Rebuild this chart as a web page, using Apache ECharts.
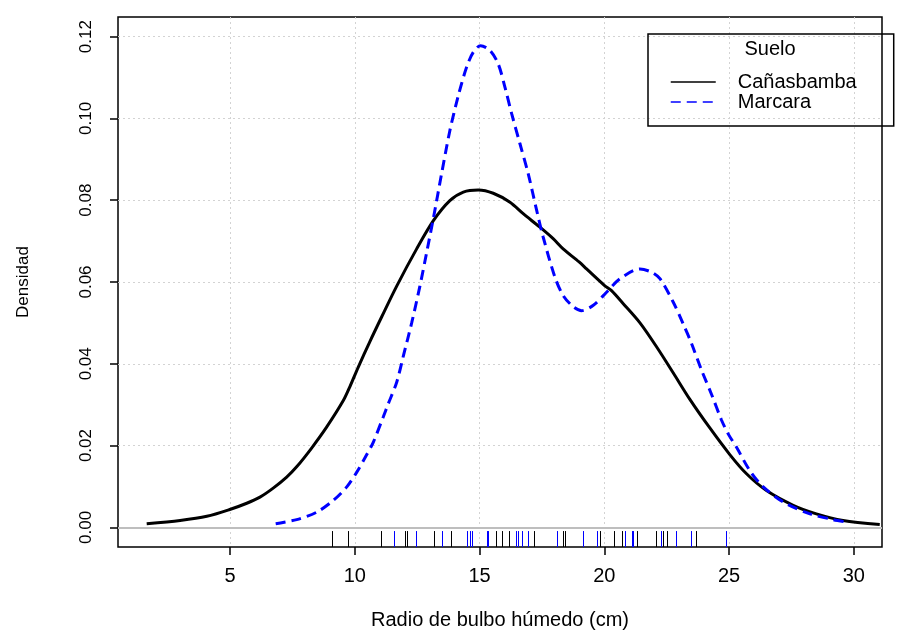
<!DOCTYPE html>
<html><head><meta charset="utf-8">
<script src="https://cdn.jsdelivr.net/npm/echarts@6/dist/echarts.min.js"></script>
<style>html,body{margin:0;padding:0;background:#fff}#c{width:897px;height:632px}</style>
</head><body><div id="c"></div>
<script>
// ---- data ----
const xTicks = [5, 10, 15, 20, 25, 30];
const yTicks = [0, 0.02, 0.04, 0.06, 0.08, 0.10, 0.12];
const seriesNames = ['Cañasbamba', 'Marcara'];
const legendTitle = 'Suelo';
const xTitle = 'Radio de bulbo húmedo (cm)';
const yTitle = 'Densidad';

const canasbambaDensity = [
  [1.66,0.0009],[3.0,0.0017],[4.07,0.0027],[4.96,0.0043],[5.67,0.0059],[6.2,0.0074],
  [6.73,0.0096],[7.27,0.0123],[7.67,0.0148],[8.27,0.0194],[8.87,0.0245],[9.54,0.0310],
  [9.81,0.0345],[10.14,0.0392],[10.61,0.0455],[11.08,0.0515],[11.68,0.0590],[12.48,0.0681],
  [13.15,0.0750],[13.81,0.0799],[14.35,0.0820],[14.95,0.0825],[15.55,0.0817],[16.22,0.0795],
  [16.75,0.0767],[17.42,0.0734],[17.95,0.0706],[18.35,0.0681],[18.99,0.0649],[19.29,0.0632],
  [20.0,0.0592],[20.29,0.0579],[20.76,0.0547],[21.43,0.0500],[22.10,0.0441],[22.76,0.0378],
  [23.43,0.0313],[24.23,0.0243],[25.03,0.0178],[25.70,0.0131],[26.5,0.0090],[27.57,0.0054],
  [28.5,0.0033],[29.57,0.0017],[31.04,0.0007]
];
const marcaraDensity = [
  [6.83,0.0009],[7.67,0.0019],[8.47,0.0037],[9.14,0.0066],[9.68,0.0099],[10.08,0.0135],
  [10.48,0.0178],[10.74,0.0208],[11.14,0.0270],[11.34,0.0302],[11.68,0.0355],[11.95,0.0420],
  [12.28,0.0500],[12.61,0.0590],[12.88,0.0672],[13.15,0.0756],[13.48,0.0865],[13.81,0.0970],
  [14.15,0.1056],[14.48,0.1125],[14.75,0.1162],[15.04,0.1178],[15.42,0.1166],[15.75,0.1133],
  [16.02,0.1076],[16.29,0.1011],[16.62,0.0938],[16.95,0.0865],[17.29,0.0775],[17.55,0.0710],
  [18.02,0.0612],[18.35,0.0567],[18.75,0.0540],[19.09,0.0530],[19.56,0.0543],[20.09,0.0575],
  [20.63,0.0608],[21.43,0.0632],[21.89,0.0624],[22.23,0.0608],[22.76,0.0551],[23.16,0.0498],
  [23.50,0.0449],[23.90,0.0384],[24.3,0.0325],[24.7,0.0262],[25.0,0.0225],[25.3,0.0196],
  [25.83,0.0139],[26.37,0.0099],[27.17,0.0062],[28.24,0.0033],[29.17,0.0019],[29.6,0.0014]
];
const canasbambaRug = [9.09, 9.73, 11.04, 12.03, 12.1, 13.19, 13.84, 15.66, 15.9, 16.17, 17.2,
  18.33, 18.44, 19.81, 20.4, 20.7, 21.3, 22.06, 22.35, 22.53, 23.68];
const marcaraRug = [11.59, 12.47, 13.51, 14.5, 14.6, 14.7, 15.3, 15.35, 16.46, 16.53, 16.7, 16.94,
  18.12, 19.15, 19.71, 20.81, 21.1, 21.16, 22.26, 22.88, 23.49, 24.88];

// ---- chart ----
const X_MIN = 0.51, X_MAX = 31.13, Y_MIN = -0.0048, Y_MAX = 0.1248, RUG_TOP = -0.0009;
const FONT = 'Liberation Sans, Arial, sans-serif';
const colors = ['#000000', '#0000FF'];

function rugSeries(name, values, color) {
  return {
    name: name, type: 'custom', z: 3, silent: true,
    data: values.map(v => [v, 0]),
    encode: { x: 0, y: 1 },
    renderItem: function (params, api) {
      const x = api.value(0);
      const p1 = api.coord([x, Y_MIN]);
      const p2 = api.coord([x, RUG_TOP]);
      const px = Math.round(p1[0]) + 0.5;
      return { type: 'line', shape: { x1: px, y1: p1[1], x2: px, y2: p2[1] },
        style: { stroke: color, lineWidth: 1 } };
    }
  };
}

const chart = echarts.init(document.getElementById('c'), null, { renderer: 'canvas' });
chart.setOption({
  animation: false,
  backgroundColor: '#fff',
  grid: { left: 118, right: 15, top: 17, bottom: 85, show: true, borderColor: '#000', borderWidth: 1.5,
    containLabel: false, outerBoundsMode: 'none' },
  xAxis: {
    type: 'value', min: X_MIN, max: X_MAX,
    axisLine: { show: false, onZero: false },
    axisTick: { show: true, length: 8, customValues: xTicks, lineStyle: { color: '#000', width: 1.5 } },
    axisLabel: { customValues: xTicks, color: '#000', fontSize: 20, fontFamily: FONT, margin: 19 },
    splitLine: { show: true, lineStyle: { color: '#D3D3D3', type: [2, 3], width: 1 } },
    name: xTitle, nameLocation: 'middle', nameGap: 63,
    nameTextStyle: { color: '#000', fontSize: 20, fontFamily: FONT }
  },
  yAxis: {
    type: 'value', min: Y_MIN, max: Y_MAX,
    axisLine: { show: false, onZero: false },
    axisTick: { show: true, length: 8, customValues: yTicks, lineStyle: { color: '#000', width: 1.5 } },
    axisLabel: { customValues: yTicks, color: '#000', fontSize: 17, fontFamily: FONT, rotate: 90, margin: 23,
      formatter: v => v.toFixed(2) },
    splitLine: { show: true, lineStyle: { color: '#D3D3D3', type: [2, 3], width: 1 } },
    name: yTitle, nameLocation: 'middle', nameGap: 86, nameRotate: 90,
    nameTextStyle: { color: '#000', fontSize: 17, fontFamily: FONT }
  },
  legend: {
    data: seriesNames, orient: 'vertical', left: 648, top: 34,
    padding: [38, 37, 14, 22], itemWidth: 45, itemHeight: 14, itemGap: 0,
    borderColor: '#000', borderWidth: 1.5, borderRadius: 0,
    lineStyle: { width: 1.5 },
    itemStyle: { color: 'transparent', borderWidth: 0, opacity: 0 },
    textStyle: { color: '#000', fontSize: 20, fontFamily: FONT, padding: [0, 0, 0, 17] }
  },
  graphic: [{
    type: 'text', x: 770, y: 49, silent: true,
    style: { text: legendTitle, fill: '#000', font: '20px ' + FONT, align: 'center', verticalAlign: 'middle' }
  }],
  series: [
    {
      name: 'zero', type: 'line', data: [], silent: true, z: 1,
      markLine: { silent: true, symbol: ['none', 'none'], label: { show: false },
        lineStyle: { color: '#BEBEBE', type: 'solid', width: 2 }, data: [{ yAxis: 0 }] }
    },
    rugSeries('rugC', canasbambaRug, colors[0]),
    rugSeries('rugM', marcaraRug, colors[1]),
    {
      name: seriesNames[0], type: 'line', data: canasbambaDensity, showSymbol: false, symbol: 'none',
      smooth: 0.3, z: 4, color: colors[0],
      lineStyle: { color: colors[0], width: 3 }
    },
    {
      name: seriesNames[1], type: 'line', data: marcaraDensity, showSymbol: false, symbol: 'none',
      smooth: 0.3, z: 5, color: colors[1],
      lineStyle: { color: colors[1], width: 3, type: [10, 6] }
    }
  ]
});
</script></body></html>
